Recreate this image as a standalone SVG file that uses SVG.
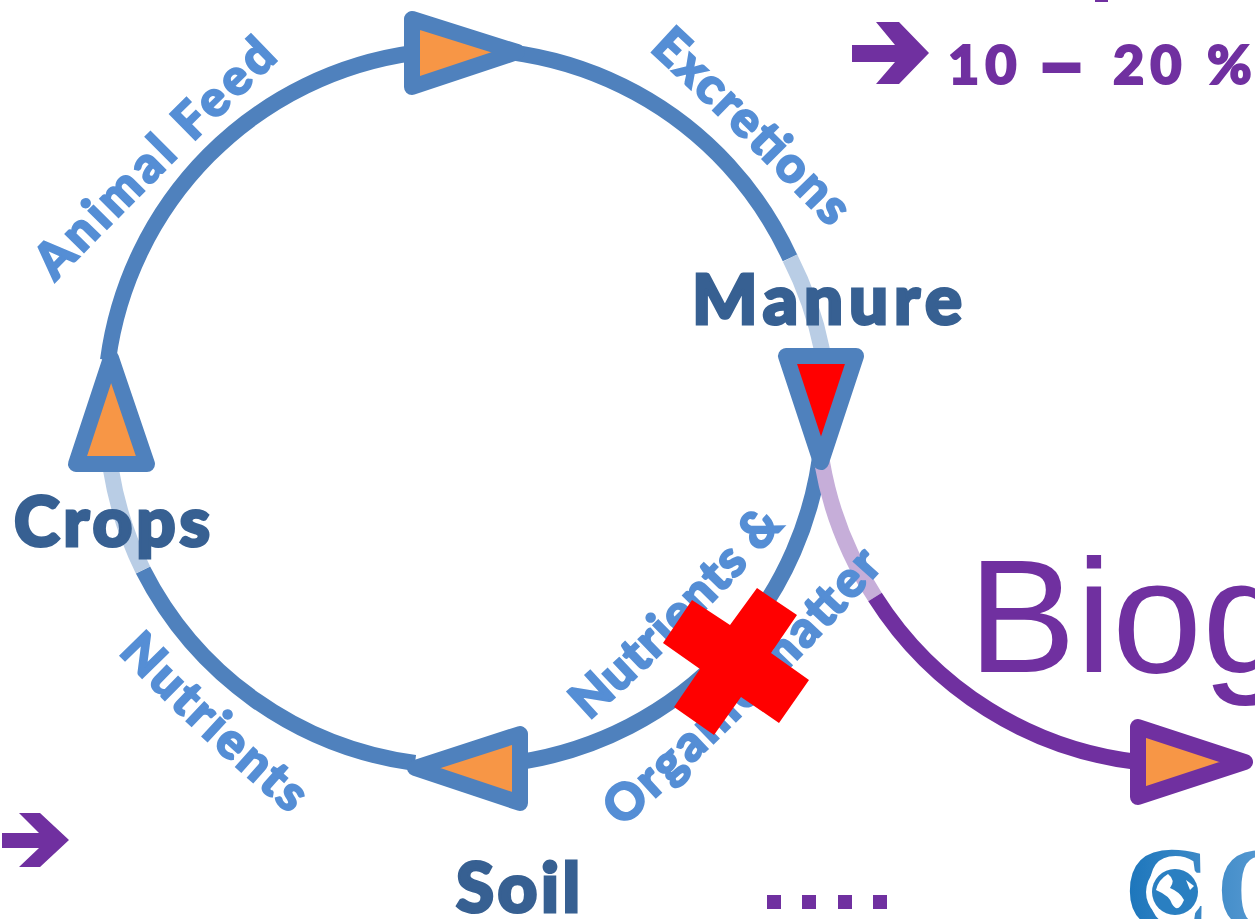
<svg xmlns="http://www.w3.org/2000/svg" width="1255" height="919" viewBox="0 0 1255 919">
<style>
.arc{fill:none;stroke:#4f81bd;stroke-width:16}
.pale{fill:none;stroke:#b9cde5;stroke-width:16}
.tri{stroke:#4f81bd;stroke-width:16;stroke-linejoin:round;fill:#f79646}
.node{font-family:"Lato","Liberation Sans",sans-serif;font-weight:900;fill:#376092;stroke:#376092;stroke-width:3;font-size:69px}
.lab{font-family:"Lato","Liberation Sans",sans-serif;font-weight:900;fill:#558ed5;stroke:#558ed5;stroke-width:2;font-size:50px}
.pur{font-family:"Lato","Liberation Sans",sans-serif;font-weight:900;fill:#7030a0;stroke:#7030a0;stroke-width:2;font-size:54px}
</style>
<defs>
<linearGradient id="logoC" x1="0" y1="0" x2="1" y2="0"><stop offset="0" stop-color="#1b75bb"/><stop offset="1" stop-color="#6aa5d8"/></linearGradient>
<path id="pAnimal" d="M55 282Q165 168 280 58"/>
<path id="pExc" d="M649 50Q738 132 832 230"/>
<path id="pNut" d="M118 653Q197 735 292 816"/>
<path id="pNutAnd" d="M589 721Q690 630 786 524"/>
<path id="pOrg" d="M622 828Q760 705 886 564"/>
</defs>
<g id="connectors">
<path class="arc" d="M413 53A358 358 0 0 1 790 258"/>
<path class="pale" d="M790 258A358 358 0 0 1 822 350"/>
<path class="arc" d="M822 440A358 358 0 0 1 520 762"/>
<path class="arc" d="M415 763A358 358 0 0 1 143 570"/>
<path class="pale" d="M143 570A358 358 0 0 1 111 470"/>
<path class="arc" d="M108 360A358 358 0 0 1 413 53"/>
<path d="M822 462A360 360 0 0 0 875 597" fill="none" stroke="#c6aed9" stroke-width="16"/>
<path d="M875 597A360 360 0 0 0 1138 762" fill="none" stroke="#7030a0" stroke-width="16"/>
</g>
<g id="labels">
<text class="lab"><textPath href="#pAnimal" textLength="316" lengthAdjust="spacing">Animal Feed</textPath></text>
<text class="lab"><textPath href="#pExc" textLength="254" lengthAdjust="spacing">Excretions</textPath></text>
<text class="lab"><textPath href="#pNut" textLength="236" lengthAdjust="spacing">Nutrients</textPath></text>
<text class="lab"><textPath href="#pNutAnd" textLength="276" lengthAdjust="spacing">Nutrients &amp;</textPath></text>
<text class="lab"><textPath href="#pOrg" textLength="370" lengthAdjust="spacing">Organic matter</textPath></text>
</g>
<g id="node-feed"><path class="tri" d="M412 19V87L517 52Z"/></g>
<g id="node-manure"><path class="tri" style="fill:#f00" d="M786 356H856L821 462Z"/><text class="node" x="692" y="324" textLength="270" lengthAdjust="spacing">Manure</text></g>
<g id="node-soil"><path class="tri" d="M520 734V803L415 768Z"/><text class="node" x="456" y="912" textLength="124" lengthAdjust="spacing">Soil</text></g>
<g id="node-crops"><path class="tri" d="M76 464H147L111 358Z"/><text class="node" x="14" y="546" textLength="196" lengthAdjust="spacing">Crops</text></g>
<g id="node-biogas"><path d="M1138 727V797L1245 762Z" stroke="#7030a0" stroke-width="16" stroke-linejoin="round" fill="#f79646"/>
<text x="968" y="672" font-family="Liberation Sans,sans-serif" font-size="162" fill="#7030a0">Biog</text></g>
<g id="cross"><path fill="#f00" d="M757 588L797 615L771 653L809 680L779 723L741 697L714 735L674 707L700 669L663 643L692 600L730 625Z"/></g>
<g id="arrow-top"><path fill="#7030a0" d="M852 45H895L876 22H899L929 53L899 84H876L895 62H852Z"/>
<text class="pur" y="84"><tspan x="948" letter-spacing="6">10</tspan><tspan x="1036" y="94" font-size="88">–</tspan><tspan x="1113" y="84" letter-spacing="6">20</tspan><tspan x="1207">%</tspan></text></g>
<rect x="1095" y="0" width="13" height="2" fill="#7030a0"/>
<g id="arrow-bottom"><path fill="#7030a0" d="M2 833H39L19 813H40L69 840L40 867H19L39 848H2Z"/></g>
<g id="dots" fill="#7030a0"><rect x="767" y="895" width="14" height="14"/><rect x="802" y="895" width="14" height="14"/><rect x="838" y="895" width="14" height="14"/><rect x="873" y="895" width="14" height="14"/></g>
<g id="logo"><text y="930" font-family="Liberation Serif,serif" font-weight="700" font-size="120" fill="url(#logoC)"><tspan x="1124">C</tspan><tspan x="1216">O</tspan></text>
<circle cx="1175" cy="892" r="29" fill="#fff"/><circle cx="1175" cy="892" r="23" fill="#2a7fc1"/>
<path fill="#fff" d="M1168 874Q1176 880 1170 888Q1180 892 1184 900Q1178 914 1172 904Q1170 896 1156 890Q1158 880 1168 874Z"/>
<path fill="#fff" d="M1186 880L1194 886L1190 890Z"/></g>
</svg>
